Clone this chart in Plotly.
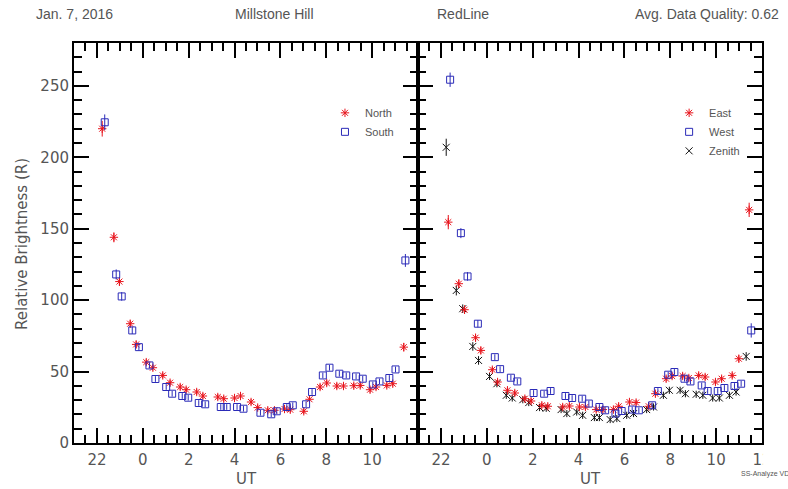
import plotly.graph_objects as go

# ---------------- data (UT hours; negative = previous day) ----------------
north_ut = [-1.77, -1.26, -1.02, -0.55, -0.29, 0.15, 0.44, 0.87, 1.19, 1.63, 1.89, 2.35, 2.62, 3.27, 3.53, 4.00,
            4.26, 4.72, 5.01, 5.45, 5.74, 6.18, 6.43, 7.02, 7.27, 7.73, 8.02, 8.46, 8.75, 9.20, 9.48, 9.91,
            10.17, 10.64, 10.90, 11.38]
north = [220, 144, 113, 83.5, 69, 56.6, 52.7, 47.3, 42.2, 39.2, 37.3, 35.7, 32.9, 32.2, 31.0, 31.5,
         32.9, 28.7, 24.8, 22.9, 22.9, 23.8, 23.3, 22.2, 30.6, 39.2, 42.0, 39.9, 39.9, 40.1, 40.3, 37.3,
         39.2, 40.3, 41.5, 67.1]
north_err = [5.5, 3.5, 3, 2.5, 2.5, 2, 2, 2, 2, 2, 2, 2, 2, 2, 2, 2,
             2, 2, 2, 2, 2, 2, 2, 2, 2, 2, 2, 2, 2, 2, 2, 2,
             2, 2, 2, 3]

south_ut = [-1.66, -1.16, -0.92, -0.46, -0.17, 0.29, 0.55, 1.02, 1.28, 1.72, 1.98, 2.44, 2.72, 3.40, 3.66, 4.11,
            4.39, 5.13, 5.60, 5.84, 6.28, 6.54, 7.12, 7.38, 7.85, 8.14, 8.57, 8.87, 9.30, 9.59, 10.03, 10.32,
            10.75, 11.02, 11.45]
south = [224.5, 118, 102.6, 78.8, 67.1, 54.3, 44.8, 39.2, 34.5, 32.9, 31.7, 28.0, 27.1, 25.2, 25.2, 25.2,
         24.0, 21.2, 20.1, 22.2, 25.2, 26.4, 27.1, 35.7, 47.3, 52.7, 48.5, 47.3, 46.6, 45.0, 41.0, 43.1,
         45.5, 51.5, 127.8]
south_err = [5.5, 3.5, 3, 2.5, 2.5, 2, 2, 2, 2, 2, 2, 2, 2, 2, 2, 2,
             2, 2, 2, 2, 2, 2, 2, 2, 2, 2, 2, 2, 2, 2, 2, 2,
             2, 2, 4.5]

east_ut = [-1.68, -1.22, -0.97, -0.49, -0.26, 0.24, 0.47, 0.90, 1.22, 1.66, 1.93, 2.40, 2.66, 3.31, 3.60, 4.04,
           4.30, 4.77, 5.06, 5.52, 5.75, 6.22, 6.51, 7.06, 7.35, 7.82, 8.08, 8.54, 8.81, 9.24, 9.52, 9.97,
           10.24, 10.70, 10.99, 11.44]
east = [154.6, 111.5, 93.3, 73.7, 64.8, 51.3, 42.7, 36.9, 35.0, 31.0, 29.4, 26.4, 25.7, 25.2, 25.9, 25.2,
        25.2, 23.4, 23.4, 23.4, 25.7, 28.7, 28.3, 25.7, 34.5, 45.0, 46.9, 46.9, 45.5, 47.3, 46.2, 42.7,
        45.0, 47.3, 59.0, 163.2]
east_err = [5, 3, 3, 2.5, 2.5, 2, 2, 2, 2, 2, 2, 2, 2, 2, 2, 2,
            2, 2, 2, 2, 2, 2, 2, 2, 2, 2, 2, 2, 2, 2, 2, 2,
            2, 2, 2.5, 5]

west_ut = [-1.60, -1.13, -0.84, -0.39, 0.35, 0.58, 1.05, 1.33, 2.04, 2.50, 2.78, 3.43, 3.72, 4.16, 4.45, 4.91,
           5.16, 5.61, 5.88, 6.34, 6.63, 7.21, 7.46, 7.91, 8.18, 8.62, 8.88, 9.37, 9.63, 10.07, 10.36, 10.80,
           11.09, 11.53]
west = [254.3, 146.9, 116.6, 83.5, 60.1, 51.7, 45.7, 43.1, 35.0, 34.5, 36.4, 32.9, 31.5, 31.0, 27.6, 25.2,
        22.9, 20.6, 22.4, 23.4, 22.9, 26.4, 36.4, 47.8, 49.7, 45.0, 43.1, 40.3, 36.4, 36.4, 38.5, 39.9,
        41.5, 78.8]
west_err = [5, 3.5, 3, 2.5, 2, 2, 2, 2, 2, 2, 2, 2, 2, 2, 2, 2,
            2, 2, 2, 2, 2, 2, 2, 2, 2, 2, 2, 2, 2, 2, 2, 2,
            2, 5]

zenith_ut = [-1.77, -1.33, -1.05, -0.61, -0.36, 0.12, 0.44, 0.85, 1.11, 1.57, 1.83, 2.30, 2.59, 3.24, 3.49, 3.92,
             4.18, 4.69, 4.91, 5.38, 5.67, 6.10, 6.40, 6.97, 7.27, 7.70, 7.96, 8.43, 8.66, 9.13, 9.42, 9.85,
             10.14, 10.58, 10.87, 11.31]
zenith = [207.0, 106.8, 94.0, 67.6, 57.8, 46.6, 41.5, 33.4, 31.5, 30.3, 28.3, 24.8, 24.3, 23.4, 20.6, 21.7,
          19.4, 17.8, 17.8, 16.4, 17.1, 19.4, 20.6, 23.4, 25.2, 33.4, 36.9, 36.9, 34.5, 34.1, 33.4, 31.5,
          31.5, 33.4, 35.7, 60.6]
zenith_err = [6, 3.5, 3, 3, 3, 2.5, 2.5, 2.5, 2.5, 2.5, 2.5, 2.5, 2.5, 2.5, 2.5, 2.5,
              2.5, 2.5, 2.5, 2.5, 2.5, 2.5, 2.5, 2.5, 2.5, 2.5, 2.5, 2.5, 2.5, 2.5, 2.5, 2.5,
              2.5, 2.5, 2.5, 3]

x_tickvals_left = [-2, 0, 2, 4, 6, 8, 10]
x_ticktext_left = ["22", "0", "2", "4", "6", "8", "10"]
x_tickvals_right = [-2, 0, 2, 4, 6, 8, 10, 12]
x_ticktext_right = ["22", "0", "2", "4", "6", "8", "10", "12"]
y_tickvals = [0, 50, 100, 150, 200, 250]

RED = "#e8141c"
BLUE = "#2b2bb8"
BLACK = "#111111"
TXT = "#555555"

fig = go.Figure()


def add(xs, ys, errs, name, color, symbol, xa, ya, legend, rank):
    fig.add_trace(go.Scatter(
        x=xs, y=ys, mode="markers", name=name, xaxis=xa, yaxis=ya, legend=legend, legendrank=rank,
        marker=dict(symbol=symbol, size=7, color=color, line=dict(color=color, width=1)),
        error_y=dict(type="data", array=errs, visible=True, color=color, thickness=1, width=0),
    ))


add(north_ut, north, north_err, "North", RED, "asterisk-open", "x", "y", "legend", 1)
add(south_ut, south, south_err, "South", BLUE, "square-open", "x", "y", "legend", 2)
add(zenith_ut, zenith, zenith_err, "Zenith", BLACK, "x-thin-open", "x2", "y2", "legend2", 3)
add(east_ut, east, east_err, "East", RED, "asterisk-open", "x2", "y2", "legend2", 1)
add(west_ut, west, west_err, "West", BLUE, "square-open", "x2", "y2", "legend2", 2)

tickfont = dict(family="DejaVu Sans", size=15, color=TXT)
LINE_W = 2
TICK_W = 1.5

common_x = dict(range=[-3, 12], showgrid=False, zeroline=False, showline=True, linecolor="black",
                linewidth=LINE_W, mirror="ticks", ticks="inside", ticklen=15, tickwidth=TICK_W, tickcolor="black",
                minor=dict(ticks="inside", ticklen=8, tickmode="linear", tick0=0, dtick=0.5,
                           tickcolor="black", tickwidth=TICK_W),
                tickfont=tickfont, ticklabelstandoff=2, automargin=True)
common_y = dict(range=[0, 280], showgrid=False, zeroline=False, showline=True, linecolor="black",
                linewidth=LINE_W, mirror="ticks", ticks="inside", ticklen=15, tickwidth=TICK_W, tickcolor="black",
                minor=dict(ticks="inside", ticklen=8, tickmode="linear", tick0=0, dtick=10,
                           tickcolor="black", tickwidth=TICK_W),
                tickvals=y_tickvals, tickfont=tickfont, automargin=True)

legend_common = dict(bgcolor="rgba(0,0,0,0)", borderwidth=0, itemwidth=30,
                     font=dict(family="Liberation Sans", size=11, color=TXT),
                     xanchor="left", yanchor="top", tracegroupgap=0, itemclick=False,
                     traceorder="normal")


def note(text, x, y, size=14, family="Liberation Sans", xanchor="left", angle=0):
    return dict(text=text, x=x, y=y, xref="paper", yref="paper", xanchor=xanchor, yanchor="middle",
                showarrow=False, textangle=angle, font=dict(family=family, size=size, color=TXT))


fig.update_layout(
    width=788, height=489,
    margin=dict(l=74, r=26, t=43, b=46),
    paper_bgcolor="white", plot_bgcolor="white",
    showlegend=True,
    xaxis=dict(domain=[0, 0.5], tickvals=x_tickvals_left, ticktext=x_ticktext_left, anchor="y", **common_x),
    xaxis2=dict(domain=[0.5, 1], tickvals=x_tickvals_right, ticktext=x_ticktext_right, anchor="y2", **common_x),
    yaxis=dict(domain=[0, 1], anchor="x", **common_y),
    yaxis2=dict(domain=[0, 1], anchor="x2", showticklabels=False, **common_y),
    legend=dict(x=0.3648, y=0.862, **legend_common),
    legend2=dict(x=0.865, y=0.862, **legend_common),
    annotations=[
        note("Jan. 7, 2016", -0.058, 1.0725),
        note("Millstone Hill", 0.231, 1.0725),
        note("RedLine", 0.5247, 1.0725),
        note("Avg. Data Quality: 0.62", 0.8125, 1.0725),
        # axis titles
        note("UT", 0.25, -0.09, size=15, family="DejaVu Sans", xanchor="center"),
        note("UT", 0.75, -0.09, size=15, family="DejaVu Sans", xanchor="center"),
        note("Relative Brightness (R)", -0.0756, 0.4975, size=15, family="DejaVu Sans", xanchor="center",
             angle=-90),
        note("SS-Analyze VD", 0.9665, -0.0775, size=7),
    ],
    shapes=[
        # white strip where the neighbouring (cropped) panel starts, hiding the right half of the last tick label
        dict(type="rect", xref="paper", yref="paper", x0=1.0015, x1=1.05, y0=-0.012, y1=-0.062,
             fillcolor="white", line=dict(width=0), layer="above"),
    ],
)

# remove the browser's default 8px page margin so the 788x489 figure fills the window exactly,
# then force two real layout passes (margin 45 -> 46) so every axis line and tick is redrawn
post = (
    "document.body.style.margin='0';document.body.style.overflow='hidden';"
    "var gd=document.getElementById('{plot_id}');"
    "Plotly.relayout(gd,{'margin.b':45}).then(function(){return Plotly.relayout(gd,{'margin.b':46});});"
)
fig.write_html("out.html", config={"displayModeBar": False}, post_script=post)
